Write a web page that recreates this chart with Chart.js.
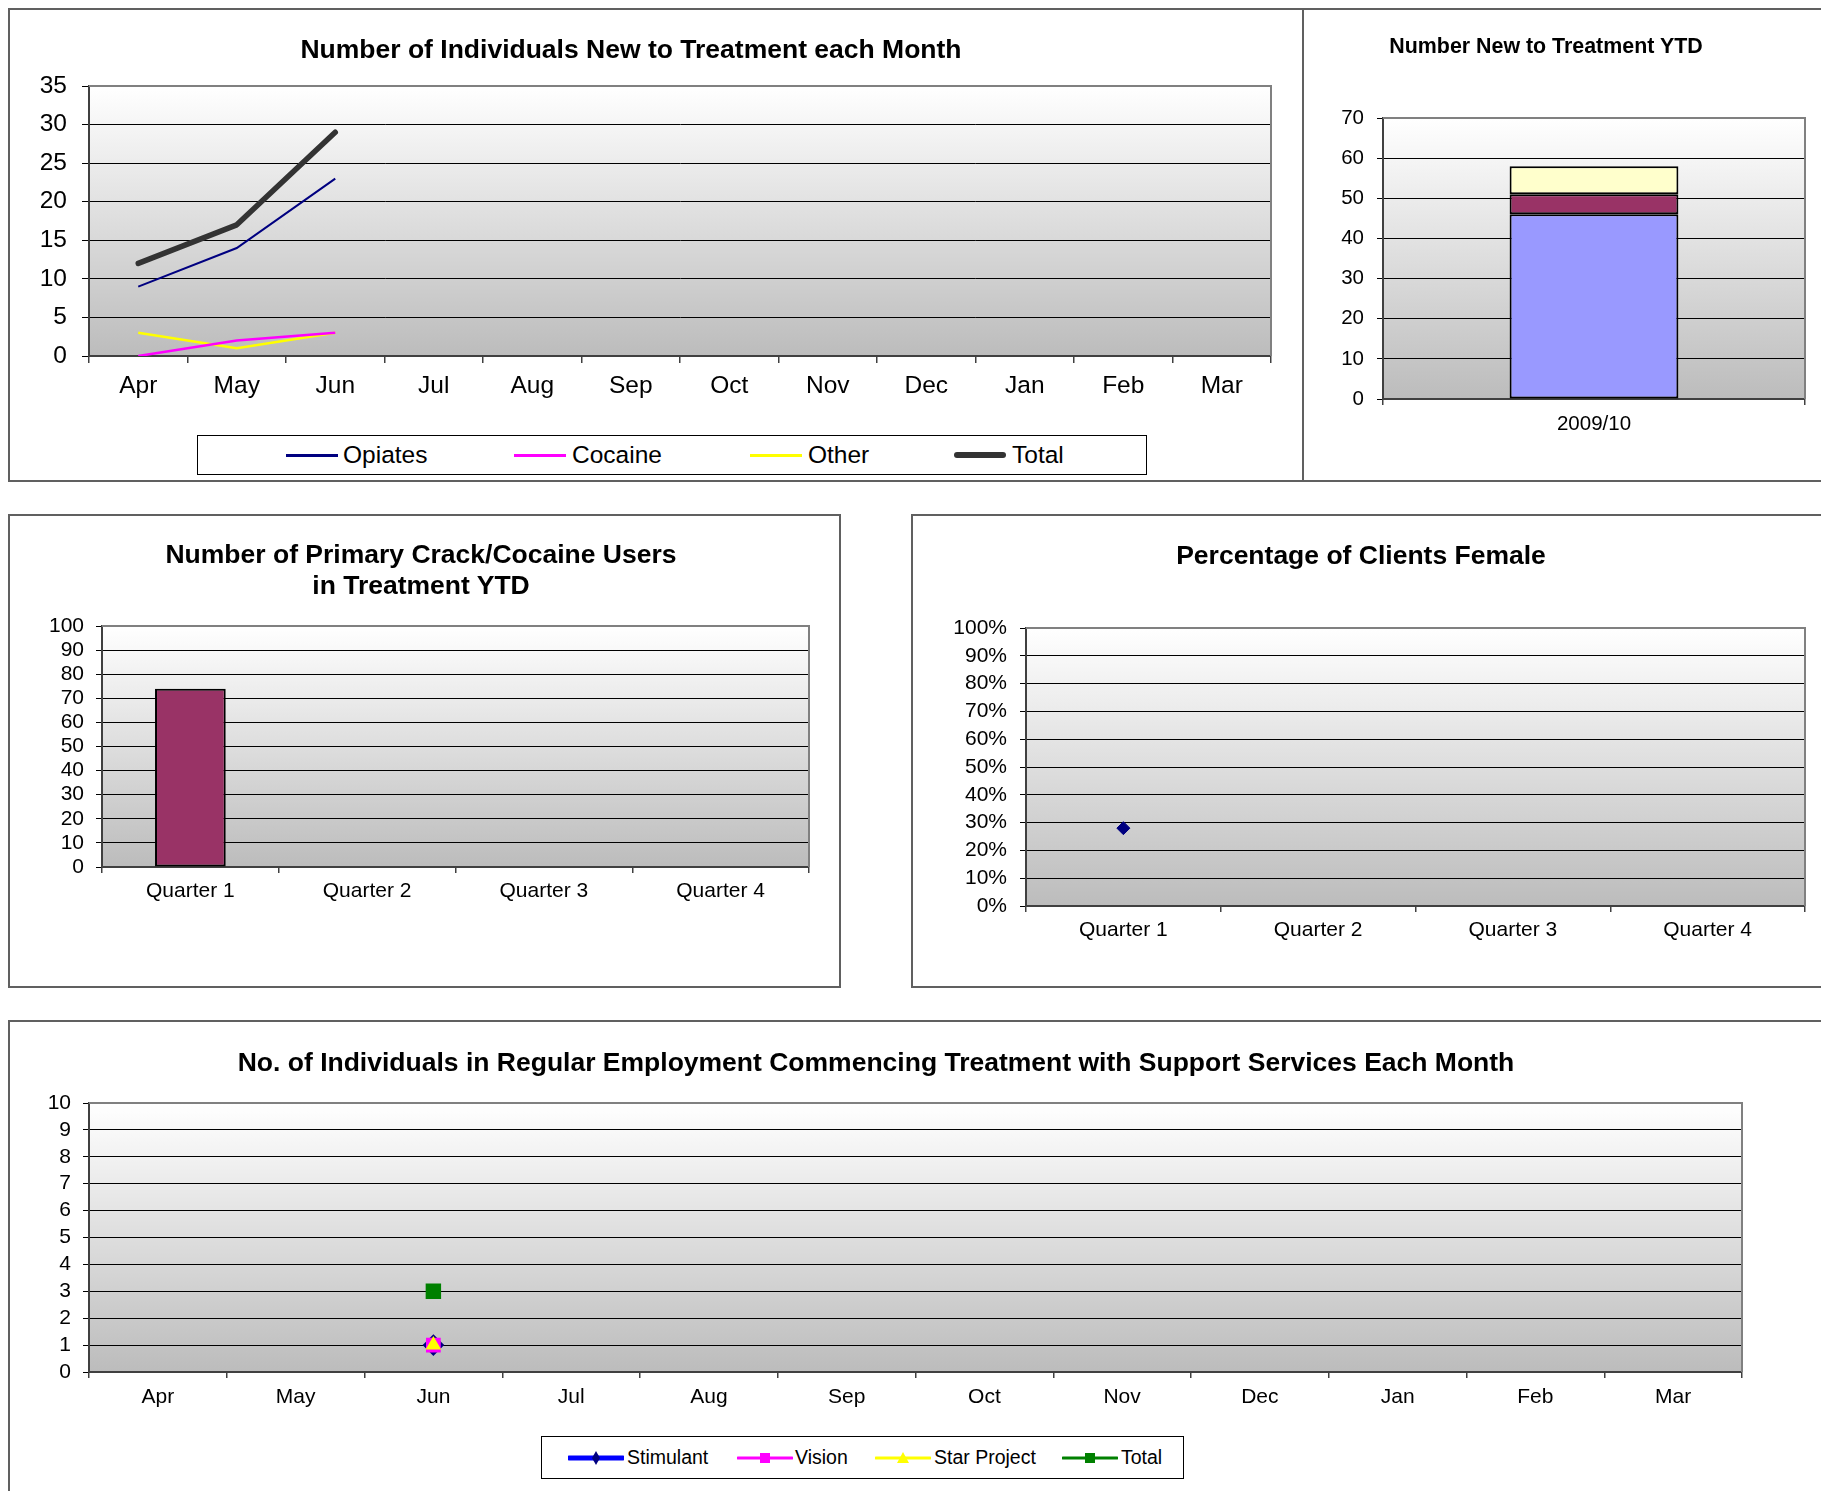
<!DOCTYPE html>
<html>
<head>
<meta charset="utf-8">
<script src="https://cdn.jsdelivr.net/npm/chart.js@4.4.0/dist/chart.umd.min.js"></script>
<style>
  body { margin: 0; background: #fff; width: 1821px; height: 1491px; overflow: hidden; position: relative;
         font-family: 'Liberation Sans', Arial, sans-serif; color: #000; }
  .panel { position: absolute; border: 2px solid #606060; box-sizing: border-box; }
  canvas { position: absolute; }
  .title { position: absolute; font-weight: bold; text-align: center; white-space: nowrap; }
  .legend { position: absolute; border: 1px solid #000; box-sizing: border-box; background: #fff; }
  .legend .txt { position: absolute; top: 0; white-space: nowrap; }
  .legend .ln { position: absolute; }
  .legend svg { position: absolute; }
</style>
</head>
<body>

<div class="panel" style="left:8px;top:8px;width:1296px;height:474px"></div>
<div class="panel" style="left:1302px;top:8px;width:540px;height:474px"></div>
<div class="panel" style="left:8px;top:514px;width:833px;height:474px"></div>
<div class="panel" style="left:911px;top:514px;width:930px;height:474px"></div>
<div class="panel" style="left:8px;top:1020px;width:1830px;height:500px"></div>

<canvas id="c1" width="1294" height="472" style="left:9px;top:9px"></canvas>
<canvas id="c2" width="518" height="472" style="left:1303px;top:9px"></canvas>
<canvas id="c3" width="831" height="472" style="left:9px;top:515px"></canvas>
<canvas id="c4" width="909" height="472" style="left:912px;top:515px"></canvas>
<canvas id="c5" width="1812" height="470" style="left:9px;top:1021px"></canvas>

<div class="title" style="left:131px;width:1000px;top:33px;font-size:26.5px;line-height:32px">Number of Individuals New to Treatment each Month</div>
<div class="title" style="left:1346px;width:400px;top:33px;font-size:21.4px;line-height:26px">Number New to Treatment YTD</div>
<div class="title" style="left:21px;width:800px;top:539px;font-size:26.5px;line-height:31px">Number of Primary Crack/Cocaine Users<br>in Treatment YTD</div>
<div class="title" style="left:961px;width:800px;top:539px;font-size:26.5px;line-height:32px">Percentage of Clients Female</div>
<div class="title" style="left:76px;width:1600px;top:1046px;font-size:26.5px;line-height:32px">No. of Individuals in Regular Employment Commencing Treatment with Support Services Each Month</div>

<div class="legend" id="leg1" style="left:197px;top:435px;width:950px;height:40px;font-size:24.5px"></div>
<div class="legend" id="leg5" style="left:541px;top:1436px;width:643px;height:43px;font-size:19.5px"></div>

<script>
// monthly new to treatment
const months = ['Apr', 'May', 'Jun', 'Jul', 'Aug', 'Sep', 'Oct', 'Nov', 'Dec', 'Jan', 'Feb', 'Mar'];
const opiates = [9, 14, 23];
const cocaine = [0, 2, 3];
const other = [3, 1, 3];
const total = [12, 17, 29];

// year to date
const years = ['2009/10'];
const ytdOpiates = [46];
const ytdCocaine = [5];
const ytdOther = [7];

// quarterly
const quarters = ['Quarter 1', 'Quarter 2', 'Quarter 3', 'Quarter 4'];
const crackUsers = [74];
const femalePct = [28];

// regular employment, by month
const stimulant = [null, null, 1];
const vision = [null, null, 1];
const starProject = [null, null, 1];
const employedTotal = [null, null, 3];

const FONT = "'Liberation Sans', Arial, sans-serif";

// grey gradient behind the plot plus the light frame on top/right
const plotBackground = {
    id: 'plotBackground',
    beforeDraw(chart) {
        const { ctx, chartArea: a } = chart;
        const g = ctx.createLinearGradient(0, a.top, 0, a.bottom);
        g.addColorStop(0, '#ffffff');
        g.addColorStop(1, '#bcbcbc');
        ctx.save();
        ctx.fillStyle = g;
        ctx.fillRect(a.left, a.top, a.right - a.left, a.bottom - a.top);
        ctx.restore();
    },
    beforeDatasetsDraw(chart) {
        const { ctx, chartArea: a } = chart;
        ctx.save();
        ctx.strokeStyle = '#808080';
        ctx.lineWidth = 2;
        ctx.beginPath();
        ctx.moveTo(a.left, a.top);
        ctx.lineTo(a.right, a.top);
        ctx.lineTo(a.right, a.bottom);
        ctx.stroke();
        ctx.restore();
    },
};
Chart.register(plotBackground);

function valueAxis(max, step, width, size, tick, pad, fmt) {
    return {
        min: 0,
        max: max,
        afterFit: (s) => { s.width = width; },
        ticks: {
            stepSize: step,
            autoSkip: false,
            color: '#000',
            font: { family: FONT, size: size },
            padding: pad,
            callback: fmt || ((v) => v),
        },
        grid: { color: '#000', lineWidth: 1, tickLength: tick },
        border: { color: '#404040', width: 2 },
    };
}

function categoryAxis(height, size, tick, pad) {
    return {
        offset: true,
        afterFit: (s) => { s.height = height; },
        ticks: {
            color: '#000',
            font: { family: FONT, size: size },
            padding: pad,
            maxRotation: 0,
            autoSkip: false,
        },
        grid: { offset: true, drawOnChartArea: false, color: '#404040', lineWidth: 1.5, tickLength: tick },
        border: { color: '#404040', width: 2 },
    };
}

function baseOptions(padding, scales) {
    return {
        responsive: false,
        animation: false,
        devicePixelRatio: 1,
        layout: { padding: padding },
        plugins: { legend: { display: false }, title: { display: false }, tooltip: { enabled: false } },
        elements: { point: { radius: 0 }, line: { tension: 0 } },
        scales: scales,
    };
}

new Chart(document.getElementById('c1'), {
    type: 'line',
    data: {
        labels: months,
        datasets: [
            { label: 'Opiates', data: opiates, borderColor: '#000080', borderWidth: 2 },
            { label: 'Cocaine', data: cocaine, borderColor: '#ff00ff', borderWidth: 2.5 },
            { label: 'Other', data: other, borderColor: '#ffff00', borderWidth: 2.5 },
            { label: 'Total', data: total, borderColor: '#333333', borderWidth: 5.5,
              borderCapStyle: 'round', borderJoinStyle: 'round' },
        ],
    },
    options: baseOptions({ left: 0, top: 77, right: 32, bottom: 65 }, {
        x: categoryAxis(60, 24.5, 7, 9),
        y: valueAxis(35, 5, 80, 24.5, 7, 15),
    }),
});

const barBorder = { borderColor: '#000', borderWidth: 2, borderSkipped: false,
                    barPercentage: 0.4, categoryPercentage: 1.0 };

new Chart(document.getElementById('c2'), {
    type: 'bar',
    data: {
        labels: years,
        datasets: [
            { label: 'Opiates', data: ytdOpiates, backgroundColor: '#9999ff', ...barBorder },
            { label: 'Cocaine', data: ytdCocaine, backgroundColor: '#993366', ...barBorder },
            { label: 'Other', data: ytdOther, backgroundColor: '#ffffcc', ...barBorder },
        ],
    },
    options: baseOptions({ left: 0, top: 109, right: 16, bottom: 32 }, {
        x: { ...categoryAxis(50, 20.5, 6, 7), stacked: true },
        y: { ...valueAxis(70, 10, 80, 20.5, 6, 13), stacked: true },
    }),
});

new Chart(document.getElementById('c3'), {
    type: 'bar',
    data: {
        labels: quarters,
        datasets: [
            { label: 'Crack/Cocaine', data: crackUsers, backgroundColor: '#993366', ...barBorder },
        ],
    },
    options: baseOptions({ left: 0, top: 111, right: 31, bottom: 70 }, {
        x: categoryAxis(50, 21, 6, 6),
        y: valueAxis(100, 10, 93, 21, 6, 12),
    }),
});

new Chart(document.getElementById('c4'), {
    type: 'line',
    data: {
        labels: quarters,
        datasets: [
            { label: 'Female', data: femalePct, showLine: false, pointStyle: 'rectRot', pointRadius: 6.5,
              pointBackgroundColor: '#000080', pointBorderColor: '#000080', pointBorderWidth: 1 },
        ],
    },
    options: baseOptions({ left: 0, top: 113, right: 16, bottom: 31 }, {
        x: categoryAxis(50, 21, 6, 6),
        y: valueAxis(100, 10, 114, 21, 6, 13, (v) => v + '%'),
    }),
});

new Chart(document.getElementById('c5'), {
    type: 'line',
    data: {
        labels: months,
        datasets: [
            { label: 'Stimulant', data: stimulant, borderColor: '#0000ff', borderWidth: 4, order: 2,
              pointStyle: 'rectRot', pointRadius: 8, pointBackgroundColor: '#000080', pointBorderColor: '#000080' },
            { label: 'Vision', data: vision, borderColor: '#ff00ff', borderWidth: 2, order: 1,
              pointStyle: 'rect', pointRadius: 9, pointBackgroundColor: '#ff00ff', pointBorderColor: '#ff00ff' },
            { label: 'Star Project', data: starProject, borderColor: '#ffff00', borderWidth: 2, order: 0,
              pointStyle: 'triangle', pointRadius: 7, pointBackgroundColor: '#ffff00', pointBorderColor: '#ffff00' },
            { label: 'Total', data: employedTotal, borderColor: '#008000', borderWidth: 2, order: 3,
              pointStyle: 'rect', pointRadius: 9.5, pointBackgroundColor: '#008000', pointBorderColor: '#008000' },
        ],
    },
    options: baseOptions({ left: 0, top: 82, right: 79, bottom: 69 }, {
        x: categoryAxis(50, 21, 6, 7),
        y: valueAxis(10, 1, 80, 21, 6, 12),
    }),
});

// html legends
function addLine(box, x, w, h, color, round, mid) {
    const d = document.createElement('div');
    d.className = 'ln';
    d.style.cssText = `left:${x}px;top:${mid - h / 2}px;width:${w}px;height:${h}px;background:${color};` +
        (round ? `border-radius:${h / 2}px;` : '');
    box.appendChild(d);
}
function addText(box, x, text, lh) {
    const s = document.createElement('span');
    s.className = 'txt';
    s.style.cssText = `left:${x}px;line-height:${lh}px;`;
    s.textContent = text;
    box.appendChild(s);
}

const leg1 = document.getElementById('leg1');
[
    { name: 'Opiates', color: '#000080', h: 3, x: 88, tx: 145 },
    { name: 'Cocaine', color: '#ff00ff', h: 3, x: 316, tx: 374 },
    { name: 'Other', color: '#ffff00', h: 3, x: 552, tx: 610 },
    { name: 'Total', color: '#333333', h: 6, x: 756, tx: 814, round: true },
].forEach((it) => {
    addLine(leg1, it.x, 52, it.h, it.color, it.round, 19);
    addText(leg1, it.tx, it.name, 38);
});

const leg5 = document.getElementById('leg5');
const svgNS = 'http://www.w3.org/2000/svg';
[
    { name: 'Stimulant', line: '#0000ff', lw: 5, mark: 'diamond', mc: '#000080', x: 26, tx: 85 },
    { name: 'Vision', line: '#ff00ff', lw: 3, mark: 'square', mc: '#ff00ff', x: 195, tx: 253 },
    { name: 'Star Project', line: '#ffff00', lw: 3, mark: 'triangle', mc: '#ffff00', x: 333, tx: 392 },
    { name: 'Total', line: '#008000', lw: 3, mark: 'square', mc: '#008000', x: 520, tx: 579 },
].forEach((it) => {
    const svg = document.createElementNS(svgNS, 'svg');
    svg.setAttribute('width', 56);
    svg.setAttribute('height', 20);
    svg.style.left = it.x + 'px';
    svg.style.top = '11px';
    let inner = `<line x1="1" y1="10" x2="55" y2="10" stroke="${it.line}" stroke-width="${it.lw}" stroke-linecap="round"/>`;
    if (it.mark === 'diamond') inner += `<polygon points="28,3 32,10 28,17 24,10" fill="${it.mc}"/>`;
    if (it.mark === 'square') inner += `<rect x="23" y="5" width="10" height="10" fill="${it.mc}"/>`;
    if (it.mark === 'triangle') inner += `<polygon points="28,4 34,15 22,15" fill="${it.mc}"/>`;
    svg.innerHTML = inner;
    leg5.appendChild(svg);
    addText(leg5, it.tx, it.name, 41);
});
</script>
</body>
</html>
